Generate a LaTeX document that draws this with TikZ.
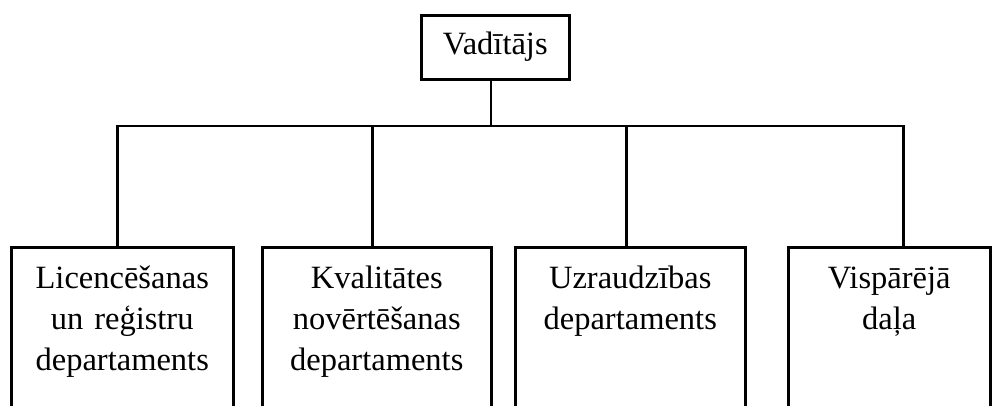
\documentclass[tikz,border=0pt]{standalone}
\usepackage{fontspec}
\setmainfont{Liberation Serif}
\begin{document}
\begin{tikzpicture}[x=1pt,y=-1pt,line width=2.5pt,
  box/.style={draw=black,inner xsep=0pt,inner ysep=0pt,align=center,
    font=\fontsize{32.5}{41}\selectfont},
  dept/.style={box,anchor=north west,text height=41pt,text depth=130pt}]
\useasboundingbox (0,0) rectangle (997,405);
\clip (0,0) rectangle (997,405);
\node[box,anchor=north west,minimum width=148pt,text height=39pt,text depth=25pt] (top) at (420,14) {Vadītājs};
\node[dept,text width=222pt] (d1) at (10,246) {Licencēšanas\\un reģistru\\departaments};
\node[dept,text width=229pt] (d2) at (261,246) {Kvalitātes\\novērtēšanas\\departaments};
\node[dept,text width=230pt] (d3) at (514,246) {Uzraudzības\\departaments};
\node[dept,text width=202pt] (d4) at (787,246) {Vispārējā\\daļa};
\coordinate (bar) at (491,126);
\draw (top.south -| bar) -- (bar);
\draw ([xshift=-5pt]d1.north) |- (bar);
\draw ([xshift=-4.5pt]d2.north) |- (bar);
\draw ([xshift=-4pt]d3.north) |- (bar);
\draw ([xshift=14pt]d4.north) |- (bar);
\end{tikzpicture}
\end{document}
